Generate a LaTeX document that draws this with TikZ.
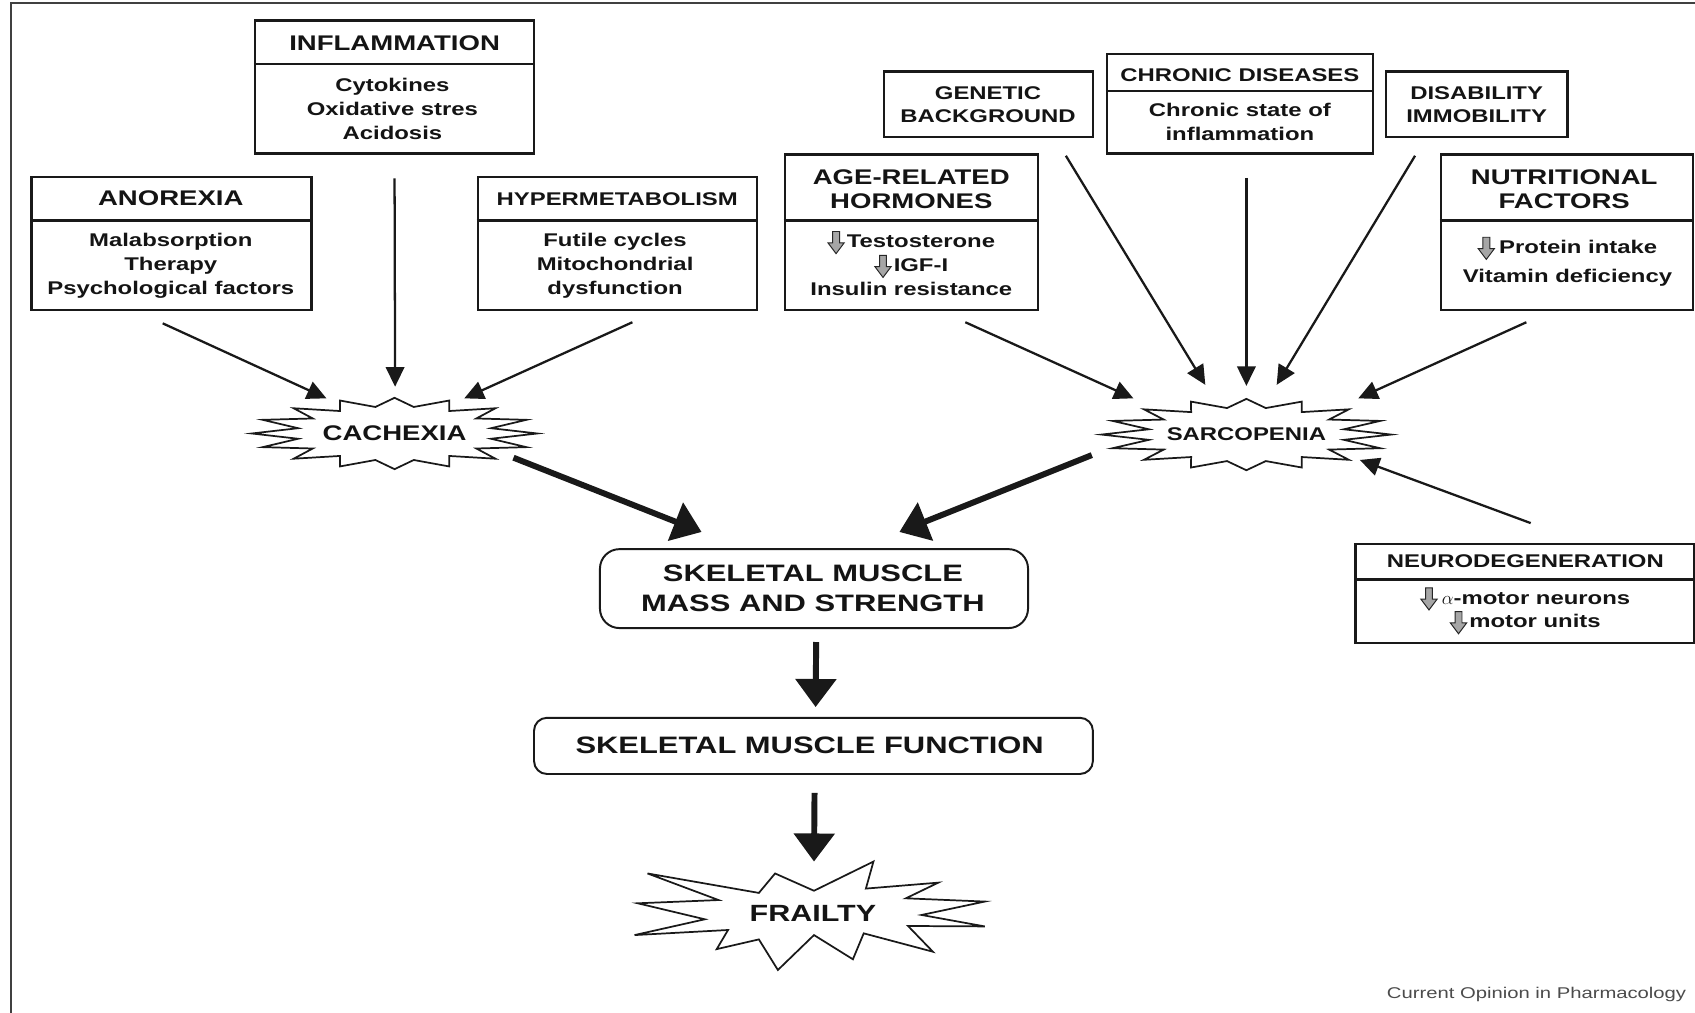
\documentclass[tikz,border=0pt]{standalone}
\usepackage{fontspec}
\setmainfont{Liberation Sans}[FakeStretch=1.3]
\usetikzlibrary{arrows.meta,calc}

\newcommand\dnglyph{\tikz[baseline=0pt,x=1pt,y=1pt]\filldraw[line width=0.9pt,fill=gray!70,draw=black!85] (-3.2,15) -- (3.2,15) -- (3.2,4.5) -- (7.5,4.5) -- (0,-5.5) -- (-7.5,4.5) -- (-3.2,4.5) -- cycle;}

\begin{document}
\begin{tikzpicture}[x=1pt,y=-1pt,
  box/.style={draw=black!90, line width=2.2pt, fill=white, inner sep=0pt, rectangle},
  rbox/.style={box, line width=1.8pt},
  hdr/.style={font=\fontsize{19.6}{23}\selectfont\bfseries, align=center, inner sep=0pt, text=black!92},
  hdrs/.style={font=\fontsize{17}{21.5}\selectfont\bfseries, align=center, inner sep=0pt, text=black!92},
  body/.style={font=\fontsize{17}{22}\selectfont\bfseries, align=center, inner sep=0pt, text=black!92},
  big/.style={font=\fontsize{22}{28}\selectfont\bfseries, align=center, inner sep=0pt, text=black!92},
  thinarr/.style={line width=2.1pt, draw=black!90, -{Triangle[length=18pt,width=17pt]}},
  thickarr/.style={line width=5.5pt, draw=black!90, -{Triangle[length=26pt,width=37pt]}},
  starline/.style={draw=black!90, line width=1.6pt, fill=white, line join=miter},
  divider/.style={draw=black!90, line width=2.2pt},
]
\useasboundingbox (0,0) rectangle (1568,937);
\fill[white] (0,0) rectangle (1568,937);
\draw[line width=2pt, black!75] (10,937) -- (10,3) -- (1568,3);

% ---------- boxes ----------
\node[box, minimum width=258pt, minimum height=123pt] (infl) at (365,80.5) {};
\draw[divider] (infl.west |- 0,59) -- (infl.east |- 0,59);
\node[hdr] (inflh) at (365,40) {INFLAMMATION};
\node[body] (inflb) at (363,101) {Cytokines\\Oxidative stres\\Acidosis};

\node[box, minimum width=259pt, minimum height=123pt] (anor) at (158.5,225.5) {};
\draw[divider] (anor.west |- 0,204) -- (anor.east |- 0,204);
\node[hdr] (anorh) at (158,183) {ANOREXIA};
\node[body] (anorb) at (158,246) {Malabsorption\\Therapy\\Psychological factors};

\node[box, minimum width=258pt, minimum height=123pt] (hyper) at (571,225.5) {};
\draw[divider] (hyper.west |- 0,204) -- (hyper.east |- 0,204);
\node[hdrs] (hyperh) at (571,184) {HYPERMETABOLISM};
\node[body] (hyperb) at (569,246) {Futile cycles\\Mitochondrial\\dysfunction};

\node[box, minimum width=234pt, minimum height=144pt] (age) at (843,215) {};
\draw[divider] (age.west |- 0,204) -- (age.east |- 0,204);
\node[hdr] (ageh) at (843,175) {AGE-RELATED\\HORMONES};
\node[body] (ageb) at (843,243.5) {\dnglyph\hspace{2pt}Testosterone\\\dnglyph\hspace{2pt}IGF-I\\Insulin resistance};

\node[box, minimum width=193pt, minimum height=61pt] (gen) at (914.5,96.5) {};
\node[hdrs] (genh) at (914,97) {GENETIC\\BACKGROUND};

\node[box, minimum width=246pt, minimum height=92pt] (chron) at (1147,96) {};
\draw[divider] (chron.west |- 0,84) -- (chron.east |- 0,84);
\node[hdrs] (chronh) at (1147,69.5) {CHRONIC DISEASES};
\node[body] (chronb) at (1147,113) {Chronic state of\\inflammation};

\node[box, minimum width=168pt, minimum height=61pt] (dis) at (1366,96.5) {};
\node[hdrs] (dish) at (1366,97) {DISABILITY\\IMMOBILITY};

\node[box, minimum width=233pt, minimum height=144pt] (nutr) at (1449.5,215) {};
\draw[divider] (nutr.west |- 0,204) -- (nutr.east |- 0,204);
\node[hdr] (nutrh) at (1447,175) {NUTRITIONAL\\FACTORS};
\node[body, font=\fontsize{17}{27}\selectfont\bfseries] (nutrb) at (1450,242) {\dnglyph\hspace{4pt}Protein intake\\Vitamin deficiency};

\node[box, minimum width=313pt, minimum height=92pt] (neuro) at (1410.5,549) {};
\draw[divider] (neuro.west |- 0,536) -- (neuro.east |- 0,536);
\node[hdrs] (neuroh) at (1411,519.5) {NEURODEGENERATION};
\node[body] (neurob) at (1411,565) {\dnglyph\hspace{4pt}$\alpha$-motor neurons\\\dnglyph\hspace{2pt}motor units};

\node[rbox, rounded corners=18pt, minimum width=396pt, minimum height=73pt] (smms) at (753,544.5) {};
\node[big] (smmst) at (752,544.5) {SKELETAL MUSCLE\\MASS AND STRENGTH};

\node[rbox, rounded corners=12pt, minimum width=517pt, minimum height=52pt] (smf) at (752.5,690) {};
\node[big] (smft) at (749,689.5) {SKELETAL MUSCLE FUNCTION};

% ---------- stars ----------
\draw[starline] ({365+132},401) \foreach \k in {1,...,31}{ -- ({365+(132-41*mod(\k,2))*cos(\k*11.25)},{401+(33-8*mod(\k,2))*sin(\k*11.25)}) } -- cycle;
\node[hdr] (cach) at (365,401) {CACHEXIA};

\draw[starline] ({1153+134},402) \foreach \k in {1,...,31}{ -- ({1153+(134-42*mod(\k,2))*cos(\k*11.25)},{402+(33-8*mod(\k,2))*sin(\k*11.25)}) } -- cycle;
\node[hdrs] (sarc) at (1153,402) {SARCOPENIA};

\draw[starline] (599,808) -- (702,826) -- (717,808) -- (753,824) -- (808,797) -- (801,822) -- (868,816.5) -- (838,831) -- (911,834) -- (852.5,846.4) -- (911,857) -- (840,856.6) -- (863,880.4) -- (799,863.4) -- (789,887.4) -- (753,865) -- (719.6,897.3) -- (702,869) -- (663,878) -- (673.5,860.3) -- (587,865) -- (652,850.4) -- (590,835.6) -- (664.7,832.6) -- cycle;
\node[big, font=\fontsize{21.7}{26}\selectfont\bfseries] (frail) at (752,845) {FRAILTY};

% ---------- arrows ----------
\draw[thinarr] ($(anor.south)+(-8,11)$) -- ($(cach)+(-63,-32.5)$);
\draw[thinarr] ($(infl.south)+(0,22)$) -- ($(cach)+(0.5,-43.3)$);
\draw[thinarr] ($(hyper.south)+(14,10)$) -- ($(cach)+(64.5,-32.5)$);
\draw[thinarr] ($(age.south)+(50,10)$) -- ($(sarc)+(-104.5,-33.5)$);
\draw[thinarr] ($(gen.south)+(71.5,16)$) -- ($(sarc)+(-38,-46)$);
\draw[thinarr] ($(chron.south)+(6,21.5)$) -- ($(sarc)+(0,-45)$);
\draw[thinarr] ($(dis.south)+(-57,16)$) -- ($(sarc)+(28,-46)$);
\draw[thinarr] ($(nutr.south)+(-37.5,10)$) -- ($(sarc)+(103.5,-33.5)$);
\draw[thinarr] ($(neuro.north)+(5.5,-18)$) -- ($(sarc)+(105,23.5)$);

\draw[thickarr] ($(cach)+(110,22.4)$) -- ($(smms.north)+(-104,-15)$);
\draw[thickarr] ($(sarc)+(-143,19)$) -- ($(smms.north)+(79,-15)$);
\draw[thickarr] ($(smms.south)+(2,12)$) -- ($(smf.north)+(2,-9)$);
\draw[thickarr] ($(smf.south)+(1,16.5)$) -- ($(frail)+(1,-48)$);

% ---------- credit ----------
\node[anchor=east, inner sep=0pt, font=\fontsize{14.4}{16}\selectfont, text=black!70] (credit) at (1560,920) {Current Opinion in Pharmacology};
\end{tikzpicture}
\end{document}
